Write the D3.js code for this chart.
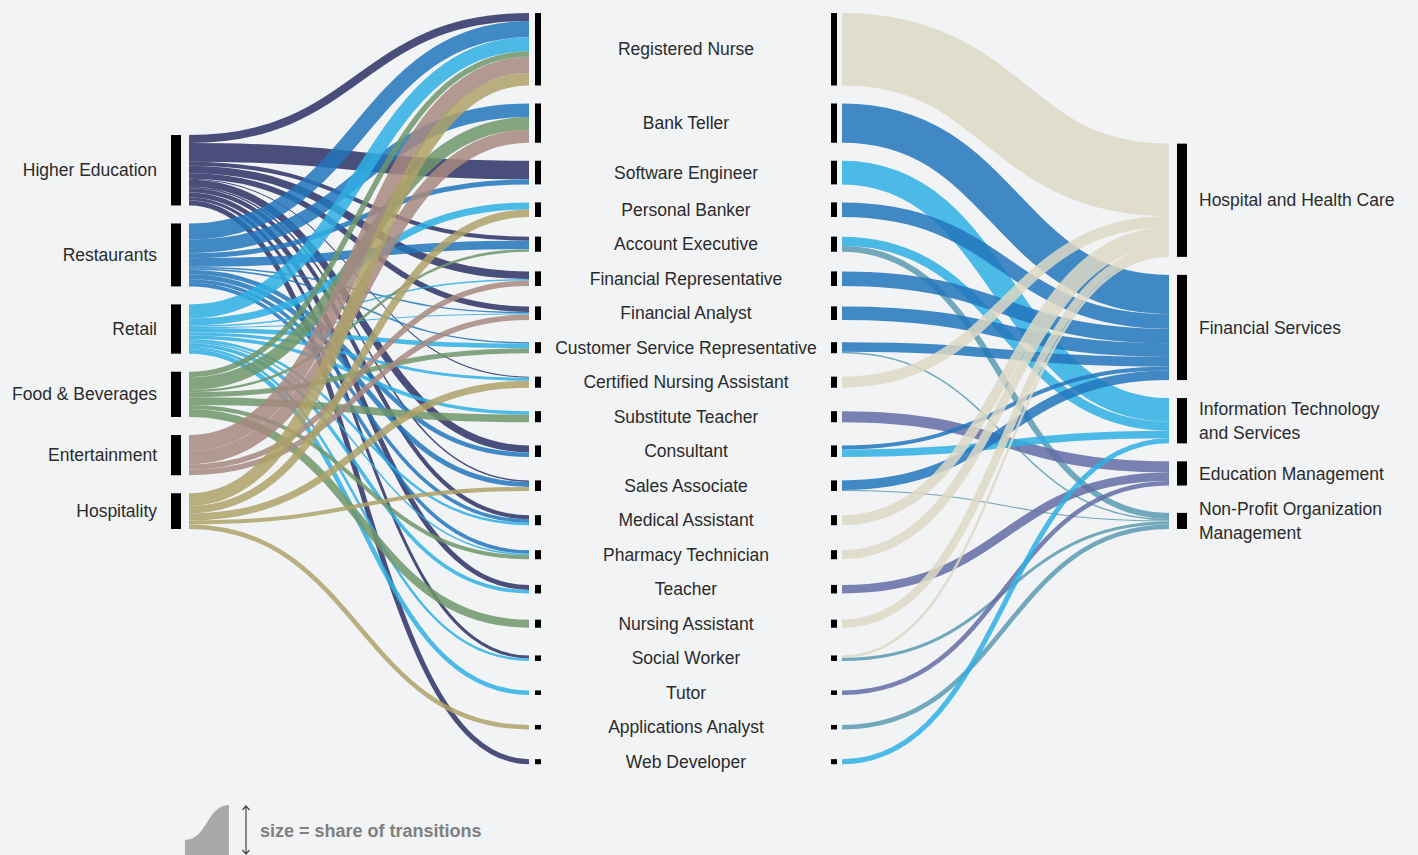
<!DOCTYPE html>
<html><head><meta charset="utf-8">
<script src="https://cdn.jsdelivr.net/npm/d3@7"></script>
<style>
html,body{margin:0;padding:0;background:#f1f3f5;}
svg{display:block;}
text{font-family:"Liberation Sans", Arial, Helvetica, sans-serif;}
</style></head><body>
<svg id="chart" width="1418" height="855"></svg>
<script>
// ---------- DATA ----------
const leftIndustries = ["Higher Education","Restaurants","Retail","Food & Beverages","Entertainment","Hospitality"];
const leftColors = ["#2c3064","#2276bc","#2fafe3","#6e956a","#a78a80","#aea168"];

const jobs = ["Registered Nurse","Bank Teller","Software Engineer","Personal Banker","Account Executive",
  "Financial Representative","Financial Analyst","Customer Service Representative","Certified Nursing Assistant",
  "Substitute Teacher","Consultant","Sales Associate","Medical Assistant","Pharmacy Technician","Teacher",
  "Nursing Assistant","Social Worker","Tutor","Applications Analyst","Web Developer"];

const rightIndustries = ["Hospital and Health Care","Financial Services","Information Technology and Services",
  "Education Management","Non-Profit Organization Management"];
const rightLabelLines = [["Hospital and Health Care"],["Financial Services"],["Information Technology","and Services"],
  ["Education Management"],["Non-Profit Organization","Management"]];
const rightColors = ["#ddd8c4","#2276bc","#2fafe3","#636ca4","#5a9ab0"];

// share of transitions: previous industry -> job
const flowsIn = [
  ["Higher Education","Registered Nurse",8],["Restaurants","Registered Nurse",16],["Retail","Registered Nurse",14],
  ["Food & Beverages","Registered Nurse",5.5],["Entertainment","Registered Nurse",16],["Hospitality","Registered Nurse",12.5],
  ["Restaurants","Bank Teller",13.5],["Food & Beverages","Bank Teller",12.5],["Entertainment","Bank Teller",13],
  ["Higher Education","Software Engineer",18.5],["Restaurants","Software Engineer",5],
  ["Retail","Personal Banker",7],["Hospitality","Personal Banker",7.5],
  ["Higher Education","Account Executive",4],["Restaurants","Account Executive",8.5],["Food & Beverages","Account Executive",2.5],
  ["Higher Education","Financial Representative",7.5],["Retail","Financial Representative",1.5],["Entertainment","Financial Representative",5.5],
  ["Higher Education","Financial Analyst",5.5],["Restaurants","Financial Analyst",1.5],["Retail","Financial Analyst",1],["Entertainment","Financial Analyst",5.5],
  ["Restaurants","Customer Service Representative",1.5],["Retail","Customer Service Representative",4.5],["Food & Beverages","Customer Service Representative",5],
  ["Higher Education","Certified Nursing Assistant",1],["Retail","Certified Nursing Assistant",3],["Hospitality","Certified Nursing Assistant",7],
  ["Retail","Substitute Teacher",3.5],["Food & Beverages","Substitute Teacher",7.5],
  ["Higher Education","Consultant",7],["Restaurants","Consultant",4.5],
  ["Higher Education","Sales Associate",1.5],["Restaurants","Sales Associate",5],["Hospitality","Sales Associate",4],
  ["Higher Education","Medical Assistant",4],["Restaurants","Medical Assistant",3.5],["Retail","Medical Assistant",2.5],
  ["Restaurants","Pharmacy Technician",3.5],["Retail","Pharmacy Technician",1.5],["Food & Beverages","Pharmacy Technician",4],
  ["Higher Education","Teacher",5],["Retail","Teacher",3.5],
  ["Food & Beverages","Nursing Assistant",8],
  ["Higher Education","Social Worker",3],["Retail","Social Worker",2.5],
  ["Retail","Tutor",4.5],
  ["Hospitality","Applications Analyst",4.5],
  ["Higher Education","Web Developer",5]
];

// share of transitions: job -> next industry
const flowsOut = [
  ["Registered Nurse","Hospital and Health Care",72],
  ["Bank Teller","Financial Services",39],
  ["Software Engineer","Information Technology and Services",23.5],
  ["Personal Banker","Financial Services",14.5],
  ["Account Executive","Information Technology and Services",9],["Account Executive","Non-Profit Organization Management",6],
  ["Financial Representative","Financial Services",14.5],
  ["Financial Analyst","Financial Services",13.5],
  ["Customer Service Representative","Financial Services",9.5],["Customer Service Representative","Non-Profit Organization Management",1.5],
  ["Certified Nursing Assistant","Hospital and Health Care",11],
  ["Substitute Teacher","Education Management",11],
  ["Consultant","Financial Services",4],["Consultant","Information Technology and Services",7.5],
  ["Sales Associate","Financial Services",9.5],["Sales Associate","Non-Profit Organization Management",1],
  ["Medical Assistant","Hospital and Health Care",10],
  ["Pharmacy Technician","Hospital and Health Care",9],
  ["Teacher","Education Management",8.5],
  ["Nursing Assistant","Hospital and Health Care",8],
  ["Social Worker","Hospital and Health Care",2.5],["Social Worker","Non-Profit Organization Management",3],
  ["Tutor","Education Management",4.5],
  ["Applications Analyst","Non-Profit Organization Management",4.5],
  ["Web Developer","Information Technology and Services",5]
];

const legendText = "size = share of transitions";

// ---------- LAYOUT ----------
const svg = d3.select("#chart");
const pad = 18;
const sideBottom = 529, sideSpan = 394, midTop = 13;
const midMinStep = 34.5, rightMinStep = 47.5;
const col = {leftBar:171, leftW:10, leftLink:189, midLinkIn:529, midBarL:535, midW:6,
             midBarR:831, midLinkOut:842, rightLink:1169, rightBar:1177, rightW:10};

const inBySrc = d3.rollup(flowsIn, v=>d3.sum(v,d=>d[2]), d=>d[0]);
const inByJob = d3.rollup(flowsIn, v=>d3.sum(v,d=>d[2]), d=>d[1]);
const outByJob = d3.rollup(flowsOut, v=>d3.sum(v,d=>d[2]), d=>d[0]);
const outByTgt = d3.rollup(flowsOut, v=>d3.sum(v,d=>d[2]), d=>d[1]);

const leftVals = leftIndustries.map(n=>inBySrc.get(n)||0);
const midVals = jobs.map(n=>Math.max(inByJob.get(n)||0, outByJob.get(n)||0));
const rightVals = rightIndustries.map(n=>outByTgt.get(n)||0);

const total = d3.sum(leftVals);
const h = d3.scaleLinear().domain([0,total]).range([0, sideSpan - pad*(leftIndustries.length-1)]);

function stack(names, vals, minStep){
  const out=[]; let pb=null, pc=null;
  vals.forEach((v,i)=>{
    const hh=h(v);
    const c = i===0 ? hh/2 : Math.max(pb+pad+hh/2, pc+minStep);
    out.push({name:names[i], i, y0:c-hh/2, y1:c+hh/2, c});
    pb=c+hh/2; pc=c;
  });
  return out;
}
function shift(nodes, dy){ nodes.forEach(n=>{n.y0+=dy;n.y1+=dy;n.c+=dy;}); return nodes; }

const L = stack(leftIndustries, leftVals, 0);
shift(L, sideBottom - L[L.length-1].y1);
const M = stack(jobs, midVals, midMinStep);
shift(M, midTop - M[0].y0);
const R = stack(rightIndustries, rightVals, rightMinStep);
shift(R, sideBottom - R[R.length-1].y1);

const Lmap = new Map(L.map(n=>[n.name,n])), Mmap = new Map(M.map(n=>[n.name,n])), Rmap = new Map(R.map(n=>[n.name,n]));

function buildLinks(flows, sMap, tMap){
  const links = flows.map(f=>({s:sMap.get(f[0]), t:tMap.get(f[1]), v:f[2], w:h(f[2])}));
  d3.group(links, d=>d.s).forEach((arr, s)=>{
    let y=s.y0; arr.sort((a,b)=>a.t.i-b.t.i).forEach(l=>{l.sy=y+l.w/2; y+=l.w;});
  });
  d3.group(links, d=>d.t).forEach((arr, t)=>{
    let y=t.y0; arr.sort((a,b)=>a.s.i-b.s.i).forEach(l=>{l.ty=y+l.w/2; y+=l.w;});
  });
  return links;
}
const linksIn = buildLinks(flowsIn, Lmap, Mmap);
const linksOut = buildLinks(flowsOut, Mmap, Rmap);

const linkGen = d3.linkHorizontal().x(d=>d[0]).y(d=>d[1]);
const leftColor = d3.scaleOrdinal(leftIndustries, leftColors);
const rightColor = d3.scaleOrdinal(rightIndustries, rightColors);

const gIn = svg.append("g");
gIn.selectAll("path").data(linksIn.slice().sort((a,b)=>a.s.i-b.s.i || a.t.i-b.t.i)).join("path")
  .attr("d", d=>linkGen({source:[col.leftLink,d.sy], target:[col.midLinkIn,d.ty]}))
  .attr("fill","none").attr("stroke", d=>leftColor(d.s.name))
  .attr("stroke-width", d=>Math.max(0.8,d.w)).attr("stroke-opacity",0.85);

const gOut = svg.append("g");
gOut.selectAll("path").data(linksOut.slice().sort((a,b)=>a.s.i-b.s.i)).join("path")
  .attr("d", d=>linkGen({source:[col.midLinkOut,d.sy], target:[col.rightLink,d.ty]}))
  .attr("fill","none").attr("stroke", d=>rightColor(d.t.name))
  .attr("stroke-width", d=>Math.max(0.8,d.w)).attr("stroke-opacity",0.85);

// bars
const bars = svg.append("g").attr("fill","#000");
bars.selectAll(".lb").data(L).join("rect").attr("x",col.leftBar).attr("width",col.leftW)
  .attr("y",d=>d.y0).attr("height",d=>d.y1-d.y0);
bars.selectAll(".ml").data(M).join("rect").attr("x",col.midBarL).attr("width",col.midW)
  .attr("y",d=>d.y0).attr("height",d=>d.y1-d.y0);
bars.selectAll(".mr").data(M).join("rect").attr("x",col.midBarR).attr("width",col.midW)
  .attr("y",d=>d.y0).attr("height",d=>d.y1-d.y0);
bars.selectAll(".rb").data(R).join("rect").attr("x",col.rightBar).attr("width",col.rightW)
  .attr("y",d=>d.y0).attr("height",d=>d.y1-d.y0);

// labels
const fs = 17.5, tc = "#2b2b2b";
svg.append("g").selectAll("text").data(L).join("text")
  .attr("x",157).attr("y",d=>d.c).attr("dy","0.35em").attr("text-anchor","end")
  .attr("font-size",fs).attr("fill",tc).text(d=>d.name);
svg.append("g").selectAll("text").data(M).join("text")
  .attr("x",(col.midBarL+col.midBarR+col.midW)/2).attr("y",d=>d.c).attr("dy","0.35em").attr("text-anchor","middle")
  .attr("font-size",fs).attr("fill",tc).text(d=>d.name);
const rl = svg.append("g").selectAll("text").data(R).join("text")
  .attr("x",1199).attr("y",d=>d.c).attr("font-size",fs).attr("fill",tc);
rl.each(function(d){
  const lines = rightLabelLines[d.i];
  const t = d3.select(this);
  lines.forEach((ln,j)=>{
    t.append("tspan").attr("x",1199).attr("y", d.c + (j-(lines.length-1)/2)*24).attr("dy","0.35em").text(ln);
  });
});

// legend
const lg = svg.append("g");
lg.append("path").attr("d","M185,860 L185,840 C207,840 207,805 229,805 L229,860 Z").attr("fill","#a9a9a9");
lg.append("path").attr("d","M246,806 L246,854 M242.5,810 L246,806 L249.5,810 M242.5,850 L246,854 L249.5,850")
  .attr("fill","none").attr("stroke","#444").attr("stroke-width",1.2);
lg.append("text").attr("x",260).attr("y",831).attr("dy","0.35em").attr("font-size",18).attr("font-weight","bold")
  .attr("fill","#7f7f7f").text(legendText);
</script>
</body></html>
